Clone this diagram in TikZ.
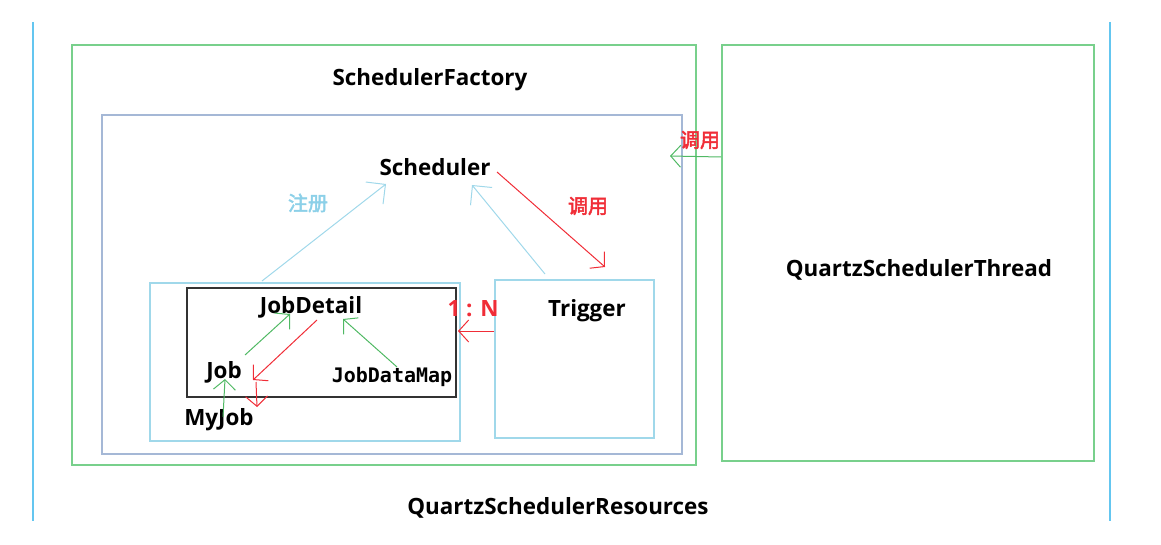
\documentclass[tikz,border=0pt]{standalone}
\usepackage{fontspec}
\setmainfont{Open Sans}
\newfontfamily\cjk{Noto Sans CJK SC}[AutoFakeBold=2.5]
\newfontfamily\monob{DejaVu Sans Mono}
\usetikzlibrary{arrows.meta}
\definecolor{cgreen}{RGB}{120,208,140}
\definecolor{cgray}{RGB}{165,184,214}
\definecolor{clight}{RGB}{160,216,234}
\definecolor{creg}{RGB}{140,208,232}
\definecolor{cvert}{RGB}{100,198,240}
\definecolor{cred}{RGB}{240,45,55}
\definecolor{cgarrow}{RGB}{80,185,100}
\tikzset{
  box/.style={draw, line width=1.8pt, inner sep=0pt, anchor=north west},
  lbl/.style={font=\bfseries\fontsize{22.4}{26}\selectfont, text=black, inner sep=0pt},
  cjklbl/.style={font=\cjk\bfseries\fontsize{20}{23}\selectfont, inner sep=0pt},
  barb/.style={line width=1pt, -{Straight Barb[length=14pt,width=28pt,line width=1pt]}},
  smallbarb/.style={line width=1pt, -{Straight Barb[length=10pt,width=22pt,line width=1pt]}}
}
\begin{document}
\begin{tikzpicture}[x=1pt,y=-1pt]
\useasboundingbox (0,0) rectangle (1161,545);
% outer vertical lines
\coordinate (vlt) at (33,22); \coordinate (vlb) at (33,521);
\coordinate (vrt) at (1110,22); \coordinate (vrb) at (1110,521);
\draw[cvert, line width=1.8pt] (vlt) -- (vlb);
\draw[cvert, line width=1.8pt] (vrt) -- (vrb);
% boxes
\node[box, draw=cgreen, minimum width=624pt, minimum height=420pt] (factory) at (71,44) {};
\node[box, draw=cgray, minimum width=580pt, minimum height=339pt] (schedbox) at (101,114) {};
\node[box, draw=clight, minimum width=310pt, minimum height=158pt] (jobbox) at (149,282) {};
\node[box, draw=black!80, line width=2.2pt, minimum width=269pt, minimum height=109pt] (detailbox) at (186,287) {};
\node[box, draw=clight, minimum width=159pt, minimum height=158pt] (trigbox) at (494,279) {};
\node[box, draw=cgreen, minimum width=372pt, minimum height=416pt] (thread) at (721,44) {};
% labels
\node[lbl] (sf) at (430,80) {SchedulerFactory};
\node[lbl] (sched) at (435,167) {Scheduler};
\node[lbl] (jd) at (311,307) {JobDetail};
\node[lbl] (job) at (224,372) {Job};
\node[lbl] (myjob) at (219,420) {MyJob};
\node[font=\monob\bfseries\fontsize{20}{23}\selectfont, inner sep=0pt] (jdm) at (392,377) {JobDataMap};
\node[lbl] (trig) at (587,311) {Trigger};
\node[lbl] (qst) at (919,270) {QuartzSchedulerThread};
\node[lbl] (qsr) at (558,508) {QuartzSchedulerResources};
\node[cjklbl, text=creg] (reg) at (308,203) {注册};
\node[cjklbl, text=cred] (call1) at (588,206) {调用};
\node[cjklbl, text=cred] (call2) at (700,140) {调用};
\node[lbl, text=cred] (ratio) at (473,309) {1 : N};
% connector end points
\coordinate (regS) at (262,281);
\coordinate (regE) at (386,184);
\coordinate (trS) at (545,274);
\coordinate (trE) at (472,185);
\coordinate (callS) at (497,172);
\coordinate (callE) at (605,267);
\coordinate (thS) at (721,157);
\coordinate (thE) at (670,156);
\coordinate (nS) at (494,331);
\coordinate (nE) at (458,331);
\coordinate (jjS) at (245,355);
\coordinate (jjE) at (290,314);
\coordinate (mS) at (397,367);
\coordinate (mE) at (343,319);
\coordinate (myS) at (223,417);
\coordinate (myE) at (225,379);
\coordinate (rdS) at (317,320);
\coordinate (rdE) at (253,380);
\coordinate (rjS) at (256,382);
\coordinate (rjE) at (257,407);
% connectors
\draw[clight, barb] (regS) -- (regE);
\draw[clight, barb] (trS) -- (trE);
\draw[cred, smallbarb] (callS) -- (callE);
\draw[cgarrow, smallbarb] (thS) -- (thE);
\draw[cred, smallbarb] (nS) -- (nE);
\draw[cgarrow, smallbarb] (jjS) -- (jjE);
\draw[cgarrow, smallbarb] (mS) -- (mE);
\draw[cgarrow, smallbarb] (myS) -- (myE);
\draw[cred, smallbarb] (rdS) -- (rdE);
\draw[cred, smallbarb] (rjS) -- (rjE);
\end{tikzpicture}
\end{document}
